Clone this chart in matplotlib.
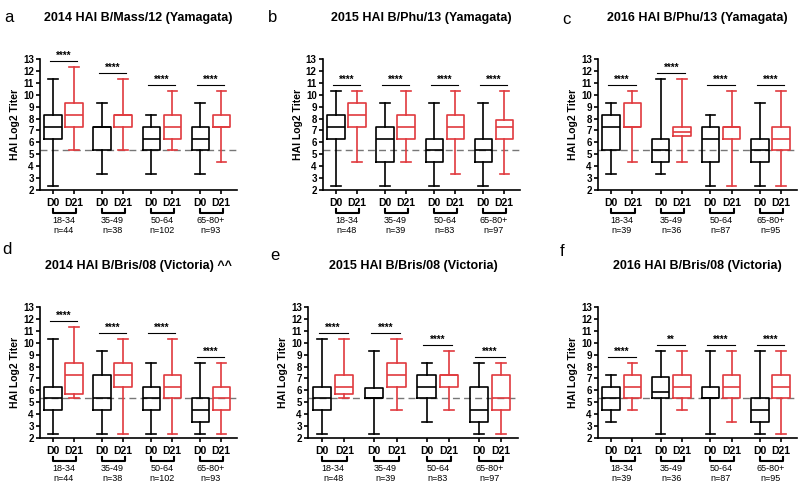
import matplotlib.pyplot as plt
from matplotlib import transforms

plt.rcParams['font.family'] = ['Liberation Sans', 'DejaVu Sans']

# box stats per panel: [whisker low, q1, median, q3, whisker high], order D0, D21 for each age group
groups = ["18-34", "35-49", "50-64", "65-80+"]
days = ["D0", "D21"]

titles = ["2014 HAI B/Mass/12 (Yamagata)", "2015 HAI B/Phu/13 (Yamagata)",
          "2016 HAI B/Phu/13 (Yamagata)", "2014 HAI B/Bris/08 (Victoria) ^^",
          "2015 HAI B/Bris/08 (Victoria)", "2016 HAI B/Bris/08 (Victoria)"]
letters = ["a", "b", "c", "d", "e", "f"]

n_2014 = [44, 38, 102, 93]
n_2015 = [48, 39, 83, 97]
n_2016 = [39, 36, 87, 95]
panel_n = [n_2014, n_2015, n_2016, n_2014, n_2015, n_2016]

stats_a = [[2.32, 6.32, 7.32, 8.32, 11.32], [5.32, 7.32, 8.32, 9.32, 12.32],
           [3.32, 5.32, 7.32, 7.32, 9.32], [5.32, 7.32, 8.32, 8.32, 11.32],
           [3.32, 5.32, 6.32, 7.32, 8.32], [5.32, 6.32, 7.32, 8.32, 10.32],
           [3.32, 5.32, 6.32, 7.32, 9.32], [4.32, 7.32, 7.32, 8.32, 10.32]]
stats_b = [[2.32, 6.32, 7.32, 8.32, 10.32], [4.32, 7.32, 8.32, 9.32, 10.32],
           [2.32, 4.32, 6.32, 7.32, 9.32], [4.32, 6.32, 7.32, 8.32, 10.32],
           [2.32, 4.32, 5.32, 6.32, 9.32], [3.32, 6.32, 7.32, 8.32, 10.32],
           [2.32, 4.32, 5.32, 6.32, 9.32], [3.32, 6.32, 7.32, 7.9, 10.32]]
stats_c = [[3.32, 5.32, 7.32, 8.32, 9.32], [4.32, 7.32, 7.32, 9.32, 10.32],
           [3.32, 4.32, 5.32, 6.32, 11.32], [4.32, 6.5, 6.9, 7.32, 11.32],
           [2.32, 4.32, 6.32, 7.32, 8.32], [2.32, 6.32, 7.32, 7.32, 10.32],
           [2.32, 4.32, 5.32, 6.32, 9.32], [2.32, 5.32, 6.32, 7.32, 10.32]]
stats_d = [[2.32, 4.32, 5.32, 6.32, 10.32], [5.32, 5.7, 7.32, 8.32, 11.32],
           [2.32, 4.32, 5.32, 7.32, 9.32], [2.32, 6.32, 7.32, 8.32, 10.32],
           [2.32, 4.32, 5.32, 6.32, 8.32], [2.32, 5.32, 6.32, 7.32, 10.32],
           [2.32, 3.32, 4.32, 5.32, 8.32], [2.32, 4.32, 5.32, 6.32, 8.32]]
stats_e = [[2.32, 4.32, 5.32, 6.32, 10.32], [5.32, 5.7, 6.32, 7.32, 10.32],
           [2.32, 5.32, 5.32, 6.2, 9.32], [4.32, 6.32, 7.32, 8.32, 10.32],
           [3.32, 5.32, 6.32, 7.32, 8.32], [4.32, 6.32, 7.32, 7.32, 9.32],
           [2.32, 3.32, 4.32, 6.32, 8.32], [2.32, 4.32, 5.32, 7.32, 8.32]]
stats_f = [[3.32, 4.32, 5.32, 6.32, 7.32], [4.32, 5.32, 6.32, 7.32, 8.32],
           [2.32, 5.32, 5.9, 7.1, 9.32], [4.32, 5.32, 6.32, 7.32, 9.32],
           [2.32, 5.32, 5.32, 6.32, 9.32], [3.32, 5.32, 6.32, 7.32, 9.32],
           [2.32, 3.32, 4.32, 5.32, 9.32], [2.32, 5.32, 6.32, 7.32, 9.32]]
panel_stats = [stats_a, stats_b, stats_c, stats_d, stats_e, stats_f]

# significance bar heights and labels per group
sig_a = [12.8, 11.8, 10.8, 10.8]
sig_b = [10.8, 10.8, 10.8, 10.8]
sig_c = [10.8, 11.8, 10.8, 10.8]
sig_d = [11.8, 10.8, 10.8, 8.8]
sig_e = [10.8, 10.8, 9.8, 8.8]
sig_f = [8.8, 9.8, 9.8, 9.8]
panel_sig = [sig_a, sig_b, sig_c, sig_d, sig_e, sig_f]
stars_f = ["****", "**", "****", "****"]
panel_stars = [["****"] * 4] * 5 + [stars_f]

threshold = 5.32  # log2(40)

# axes rectangles in pixels: left, top, right, bottom
rects = [(40, 59, 237, 190), (323, 59, 520, 190), (598, 59, 797, 190),
         (40, 307, 237, 438), (308, 307, 518, 438), (598, 307, 797, 438)]
letter_pos = [(4, 18), (268, 18), (562, 20), (2, 250), (270, 255), (560, 252)]

W, H = 800, 493
fig = plt.figure(figsize=(8, 4.93), dpi=100)

positions = [0, 1, 2.33, 3.33, 4.67, 5.67, 7, 8]
red = "#e03a3e"

for i in range(6):
    l, t, r, b = rects[i]
    ax = fig.add_axes([l / W, 1 - b / H, (r - l) / W, (b - t) / H])
    bstats = []
    for s in panel_stats[i]:
        bstats.append({"whislo": s[0], "q1": s[1], "med": s[2], "q3": s[3], "whishi": s[4]})
    bp = ax.bxp(bstats, positions=positions, widths=0.82, capwidths=0.45,
                showfliers=False, patch_artist=False)
    for k in range(8):
        c = "black" if k % 2 == 0 else red
        for art in [bp["boxes"][k], bp["medians"][k], bp["whiskers"][2 * k],
                    bp["whiskers"][2 * k + 1], bp["caps"][2 * k], bp["caps"][2 * k + 1]]:
            art.set_color(c)
            art.set_linewidth(1.2)
    ax.axhline(threshold, color="#777777", linestyle=(0, (5, 3)), linewidth=1, zorder=0)

    ax.set_ylim(2, 13)
    ax.set_xlim(-0.62, 8.75)
    ax.set_yticks(range(2, 14))
    ax.set_xticks(positions)
    ax.set_xticklabels(days * 4, fontweight="bold", fontsize=7.5)
    for lab in ax.get_yticklabels():
        lab.set_fontweight("bold")
        lab.set_fontsize(7)
    ax.tick_params(axis="both", length=3, width=1.2, pad=1.5)
    ax.tick_params(axis="x", pad=2.5)
    ax.spines["top"].set_visible(False)
    ax.spines["right"].set_visible(False)
    ax.spines["left"].set_linewidth(1.2)
    ax.spines["bottom"].set_linewidth(1.2)
    ax.set_ylabel("HAI Log2 Titer", fontweight="bold", fontsize=7.5, labelpad=2)

    hgt = b - t
    ax.text(0.5, 1 + 41 / hgt, titles[i], transform=ax.transAxes, ha="center",
            va="center", fontweight="bold", fontsize=9)
    fig.text(letter_pos[i][0] / W, 1 - letter_pos[i][1] / H, letters[i],
             fontsize=12, va="center", ha="left")

    trans = transforms.blended_transform_factory(ax.transData, ax.transAxes)
    for g in range(4):
        x0 = positions[2 * g]
        x1 = positions[2 * g + 1]
        # significance bar
        ys = panel_sig[i][g]
        ax.plot([x0 - 0.15, x1 + 0.15], [ys, ys], color="black", linewidth=0.8, clip_on=False)
        ax.text((x0 + x1) / 2, ys + 0.05, panel_stars[i][g], ha="center", va="bottom",
                fontsize=7, fontweight="bold")
        # bracket below the group
        yb = -23 / hgt
        ax.plot([x0, x0, x1 + 0.1, x1 + 0.1], [yb + 4 / hgt, yb, yb, yb + 4 / hgt],
                color="black", linewidth=1.5, transform=trans, clip_on=False)
        ax.text((x0 + x1) / 2, yb - 3 / hgt, groups[g] + "\nn=" + str(panel_n[i][g]),
                transform=trans, ha="center", va="top", fontsize=6.5, linespacing=1.2)

fig.savefig("out.png", dpi=100)
